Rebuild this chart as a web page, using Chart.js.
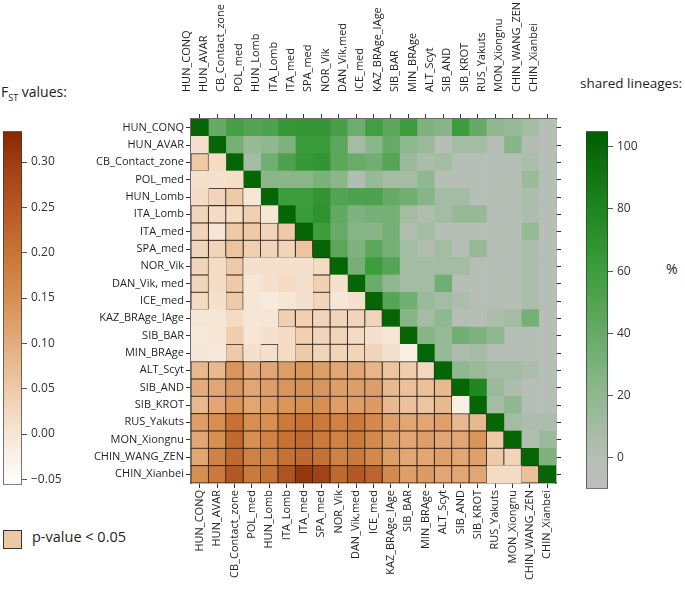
<!DOCTYPE html>
<html>
<head>
<meta charset="utf-8">
<script src="https://cdn.jsdelivr.net/npm/chart.js@4.4.0/dist/chart.umd.min.js"></script>
<style>
  body { margin: 0; background: #fff; font-family: "Open Sans", sans-serif; color: #231f20; }
  #wrap { position: relative; width: 685px; height: 598px; overflow: hidden; }
  canvas { position: absolute; }
  .txt { position: absolute; white-space: nowrap; font-size: 14px; }
</style>
</head>
<body>
<div id="wrap">
  <div class="txt" style="left:1px; top:82px;">F<sub style="font-size:9px;">ST</sub> values:</div>
  <div class="txt" style="left:580px; top:74px; font-size:13.5px;">shared lineages:</div>
  <div class="txt" style="left:666px; top:259px;">%</div>
  <div style="position:absolute; left:3px; top:530px; width:17px; height:17px; background:#edc8a2; border:1px solid #333;"></div>
  <div class="txt" style="left:32px; top:527px; font-size:14.5px;">p-value &lt; 0.05</div>
  <canvas id="fstBar" width="95" height="376" style="left:0; top:120px;"></canvas>
  <canvas id="heat" width="510" height="598" style="left:60px; top:0;"></canvas>
  <canvas id="sharedBar" width="105" height="380" style="left:580px; top:120px;"></canvas>
</div>
<script>
// populations, top to bottom / left to right
var populations = ['HUN_CONQ', 'HUN_AVAR', 'CB_Contact_zone', 'POL_med', 'HUN_Lomb', 'ITA_Lomb',
  'ITA_med', 'SPA_med', 'NOR_Vik', 'DAN_Vik, med', 'ICE_med', 'KAZ_BRAge_IAge', 'SIB_BAR',
  'MIN_BRAge', 'ALT_Scyt', 'SIB_AND', 'SIB_KROT', 'RUS_Yakuts', 'MON_Xiongnu', 'CHIN_WANG_ZEN',
  'CHIN_Xianbei'];
var columnLabels = populations.map(function (p) { return p.replace(', ', ','); });

// lower triangle: FST, row i holds columns 0..i-1
var fstValues = [
  [],
  [0.01],
  [0.05, 0.02],
  [0.01, 0.01, 0.015],
  [0.02, 0.03, 0.05, 0.00],
  [0.03, 0.02, 0.02, 0.04, 0.00],
  [0.03, 0.00, 0.05, 0.05, 0.03, 0.05],
  [0.03, 0.03, 0.06, 0.04, 0.03, 0.03, 0.06],
  [0.03, 0.02, 0.05, 0.01, 0.01, 0.01, 0.01, 0.02],
  [0.03, 0.02, 0.05, 0.00, 0.01, 0.02, 0.01, 0.04, 0.01],
  [0.02, 0.01, 0.05, 0.00, -0.01, 0.00, 0.01, 0.03, 0.00, 0.01],
  [0.00, 0.00, 0.02, 0.00, 0.00, 0.04, 0.04, 0.03, 0.03, 0.03, 0.03],
  [-0.005, 0.00, 0.045, 0.00, 0.01, 0.02, 0.04, 0.03, 0.03, 0.02, 0.01, 0.00],
  [0.00, -0.005, 0.05, 0.01, 0.01, 0.02, 0.05, 0.03, 0.03, 0.03, 0.03, 0.01, -0.02],
  [0.08, 0.08, 0.14, 0.10, 0.11, 0.125, 0.14, 0.125, 0.11, 0.11, 0.085, 0.06, 0.045, 0.025],
  [0.10, 0.11, 0.14, 0.11, 0.125, 0.14, 0.15, 0.14, 0.125, 0.125, 0.125, 0.08, 0.065, 0.065, 0.08],
  [0.08, 0.11, 0.14, 0.11, 0.125, 0.14, 0.15, 0.15, 0.125, 0.125, 0.13, 0.08, 0.065, 0.06, 0.08, -0.02],
  [0.125, 0.15, 0.205, 0.15, 0.15, 0.19, 0.205, 0.19, 0.175, 0.19, 0.16, 0.125, 0.11, 0.11, 0.12, 0.08, 0.08],
  [0.11, 0.15, 0.22, 0.15, 0.175, 0.205, 0.22, 0.19, 0.175, 0.19, 0.16, 0.125, 0.11, 0.125, 0.11, 0.11, 0.14, 0.05],
  [0.11, 0.175, 0.22, 0.175, 0.175, 0.205, 0.22, 0.205, 0.175, 0.19, 0.16, 0.125, 0.11, 0.11, 0.12, 0.11, 0.12, 0.05, 0.03],
  [0.15, 0.19, 0.25, 0.19, 0.205, 0.26, 0.31, 0.29, 0.22, 0.25, 0.23, 0.16, 0.125, 0.13, 0.11, 0.11, 0.11, 0.02, 0.02, 0.065]
];

// p-value < 0.05 flags for the lower triangle
var pSignificant = [
  [],
  [0],
  [1, 0],
  [0, 0, 0],
  [0, 1, 1, 0],
  [1, 1, 1, 1, 0],
  [1, 1, 1, 1, 1, 1],
  [1, 1, 1, 1, 1, 1, 1],
  [1, 0, 1, 0, 0, 0, 0, 1],
  [1, 0, 1, 0, 0, 0, 0, 1, 0],
  [1, 0, 1, 0, 0, 0, 0, 1, 0, 0],
  [0, 0, 0, 0, 0, 1, 1, 1, 1, 1, 1],
  [0, 0, 0, 0, 0, 0, 1, 1, 1, 1, 0, 0],
  [0, 0, 1, 0, 1, 0, 1, 1, 1, 1, 0, 0, 0],
  [1, 1, 1, 1, 1, 1, 1, 1, 1, 1, 1, 1, 1, 1],
  [1, 1, 1, 1, 1, 1, 1, 1, 1, 1, 1, 1, 1, 1, 1],
  [1, 1, 1, 1, 1, 1, 1, 1, 1, 1, 1, 1, 1, 1, 1, 0],
  [1, 1, 1, 1, 1, 1, 1, 1, 1, 1, 1, 1, 1, 1, 1, 1, 1],
  [1, 1, 1, 1, 1, 1, 1, 1, 1, 1, 1, 1, 1, 1, 1, 1, 1, 1],
  [1, 1, 1, 1, 1, 1, 1, 1, 1, 1, 1, 1, 1, 1, 1, 1, 1, 1, 1],
  [1, 1, 1, 1, 1, 1, 1, 1, 1, 1, 1, 1, 1, 1, 1, 1, 1, 0, 0, 1]
];

// upper triangle: shared lineages (%), row i holds columns i+1..20
var sharedValues = [
  [40, 56, 50, 52, 65, 66, 66, 55, 36, 58, 45, 60, 28, 24, 60, 40, 20, 17, 10, 0],
  [32, 17, 20, 29, 62, 62, 45, 10, 23, 40, 20, 14, 0, 10, 10, 0, 24, 2, 0],
  [10, 35, 52, 64, 67, 45, 38, 35, 48, 14, 7, 10, 0, 0, 0, 0, 5, 0],
  [23, 23, 23, 30, 23, 2, 17, 10, 10, 20, 0, 0, 0, 0, 0, 14, 0],
  [60, 60, 67, 50, 52, 52, 40, 35, 24, 10, 10, 0, 0, 0, 5, 0],
  [62, 70, 42, 28, 32, 32, 10, 3, 10, 17, 17, 0, 0, 5, 0],
  [60, 39, 24, 24, 32, 3, 10, 0, 0, 0, 0, 0, 17, 0],
  [45, 28, 45, 32, 9, 3, 10, 0, 17, 0, 0, 5, 0],
  [32, 60, 48, 10, 10, 10, 10, 0, 0, 0, 5, 0],
  [38, 20, 10, 10, 35, 0, 0, 0, 0, 5, 0],
  [48, 35, 14, 10, 5, 0, 0, 0, 5, 0],
  [24, 10, 20, 0, 0, 5, 10, 32, 0],
  [24, 17, 35, 28, 20, 0, 0, 0],
  [17, 5, 10, 0, 0, 0, 0],
  [20, 14, 10, 10, 5, 0],
  [78, 14, 5, 0, 0],
  [10, 20, 0, 0],
  [10, 5, 5],
  [3, 14],
  [28],
  []
];
var diagonalShared = 100;

// colour bar ranges and ticks
var fstRange = [-0.056, 0.334];
var fstTicks = [-0.05, 0, 0.05, 0.10, 0.15, 0.20, 0.25, 0.30];
var sharedRange = [-10, 105];
var sharedTicks = [0, 20, 40, 60, 80, 100];

var fstColours = [[-0.056, '#ffffff'], [0, '#f6e6d6'], [0.05, '#eecaa8'], [0.10, '#e4ac7c'],
  [0.15, '#d78f52'], [0.20, '#c97436'], [0.25, '#b65823'], [0.30, '#9f3d12'], [0.334, '#8b2500']];
var sharedColours = [[-10, '#bdbdbd'], [0, '#b6bfb6'], [20, '#90b890'], [40, '#66aa66'],
  [60, '#3d9d3d'], [80, '#1e861e'], [105, '#005e00']];

function hex(c) {
  return [parseInt(c.substr(1, 2), 16), parseInt(c.substr(3, 2), 16), parseInt(c.substr(5, 2), 16)];
}
function colourAt(stops, v) {
  if (v <= stops[0][0]) return stops[0][1];
  for (var k = 1; k < stops.length; k++) {
    if (v <= stops[k][0]) {
      var t = (v - stops[k - 1][0]) / (stops[k][0] - stops[k - 1][0]);
      var a = hex(stops[k - 1][1]), b = hex(stops[k][1]);
      return 'rgb(' + a.map(function (x, n) { return Math.round(x + (b[n] - x) * t); }).join(',') + ')';
    }
  }
  return stops[stops.length - 1][1];
}

var labelFont = { family: '"Open Sans", sans-serif', size: 11 };
var n = populations.length;

// one stacked dataset per column
var datasets = columnLabels.map(function (col, j) {
  return {
    label: col,
    data: populations.map(function () { return 1; }),
    backgroundColor: populations.map(function (row, i) {
      if (i === j) return colourAt(sharedColours, diagonalShared);
      if (i > j) return colourAt(fstColours, fstValues[i][j]);
      return colourAt(sharedColours, sharedValues[i][j - i - 1]);
    }),
    borderColor: '#2b2018',
    borderWidth: populations.map(function (row, i) {
      return (i > j && pSignificant[i][j]) ? 0.8 : 0;
    }),
    borderSkipped: false,
    barPercentage: 1,
    categoryPercentage: 1
  };
});

function centreTicks(ax) {
  ax.ticks = columnLabels.map(function (c, i) { return { value: i + 0.5 }; });
}
var frame = { display: true, color: '#6b6b6b', width: 1.5 };
var tickGrid = { drawOnChartArea: false, tickLength: 5, color: '#333', offset: false };

new Chart(document.getElementById('heat'), {
  type: 'bar',
  data: { labels: populations, datasets: datasets },
  options: {
    indexAxis: 'y',
    responsive: false,
    animation: false,
    plugins: { legend: { display: false }, tooltip: { enabled: false } },
    scales: {
      x: {
        type: 'linear', position: 'bottom', stacked: true, min: 0, max: n,
        afterBuildTicks: centreTicks,
        afterFit: function (ax) { ax.height = 115; },
        ticks: { autoSkip: false, minRotation: 90, maxRotation: 90, padding: 2, color: '#231f20', font: labelFont,
          callback: function (v, i) { return columnLabels[i]; } },
        grid: tickGrid, border: frame
      },
      x2: {
        type: 'linear', position: 'top', min: 0, max: n,
        afterBuildTicks: centreTicks,
        afterFit: function (ax) { ax.height = 119; },
        ticks: { autoSkip: false, minRotation: 90, maxRotation: 90, padding: 22, color: '#231f20', font: labelFont,
          callback: function (v, i) { return columnLabels[i]; } },
        grid: tickGrid, border: frame
      },
      y: {
        type: 'category', position: 'left', stacked: true, offset: true,
        afterFit: function (ax) { ax.width = 131; },
        ticks: { autoSkip: false, padding: 2, color: '#231f20', font: labelFont },
        grid: tickGrid, border: frame
      },
      y2: {
        type: 'category', position: 'right', labels: populations, offset: true,
        afterFit: function (ax) { ax.width = 14; },
        ticks: { display: false },
        grid: tickGrid, border: frame
      }
    }
  }
});

function colourBar(id, range, ticks, stops, fmt, pad, axisWidth) {
  new Chart(document.getElementById(id), {
    type: 'bar',
    data: {
      labels: [''],
      datasets: [{
        data: [range],
        backgroundColor: function (ctx) {
          var a = ctx.chart.chartArea;
          if (!a) return '#ccc';
          var g = ctx.chart.ctx.createLinearGradient(0, a.bottom, 0, a.top);
          for (var k = 0; k <= 40; k++) {
            var v = range[0] + (range[1] - range[0]) * k / 40;
            g.addColorStop(k / 40, colourAt(stops, v));
          }
          return g;
        },
        borderColor: '#333',
        borderWidth: 1,
        borderSkipped: false,
        barPercentage: 1,
        categoryPercentage: 1
      }]
    },
    options: {
      responsive: false,
      animation: false,
      layout: { padding: pad },
      plugins: { legend: { display: false }, tooltip: { enabled: false } },
      scales: {
        x: { display: false },
        y: {
          position: 'right', min: range[0], max: range[1],
          afterBuildTicks: function (ax) { ax.ticks = ticks.map(function (v) { return { value: v }; }); },
          afterFit: function (ax) { ax.width = axisWidth; },
          ticks: { padding: 4, color: '#333', font: { family: '"Open Sans", sans-serif', size: 12 }, callback: fmt },
          grid: { drawOnChartArea: false, tickLength: 5, color: '#555' },
          border: { display: false }
        }
      }
    }
  });
}

colourBar('fstBar', fstRange, fstTicks, fstColours,
  function (v) { return v < 0 ? '\u2212' + Math.abs(v).toFixed(2) : v.toFixed(2); },
  { left: 3, top: 5, bottom: 5 }, 73);
colourBar('sharedBar', sharedRange, sharedTicks, sharedColours,
  function (v) { return String(v); },
  { left: 6, top: 7, bottom: 7 }, 77);
</script>
</body>
</html>
